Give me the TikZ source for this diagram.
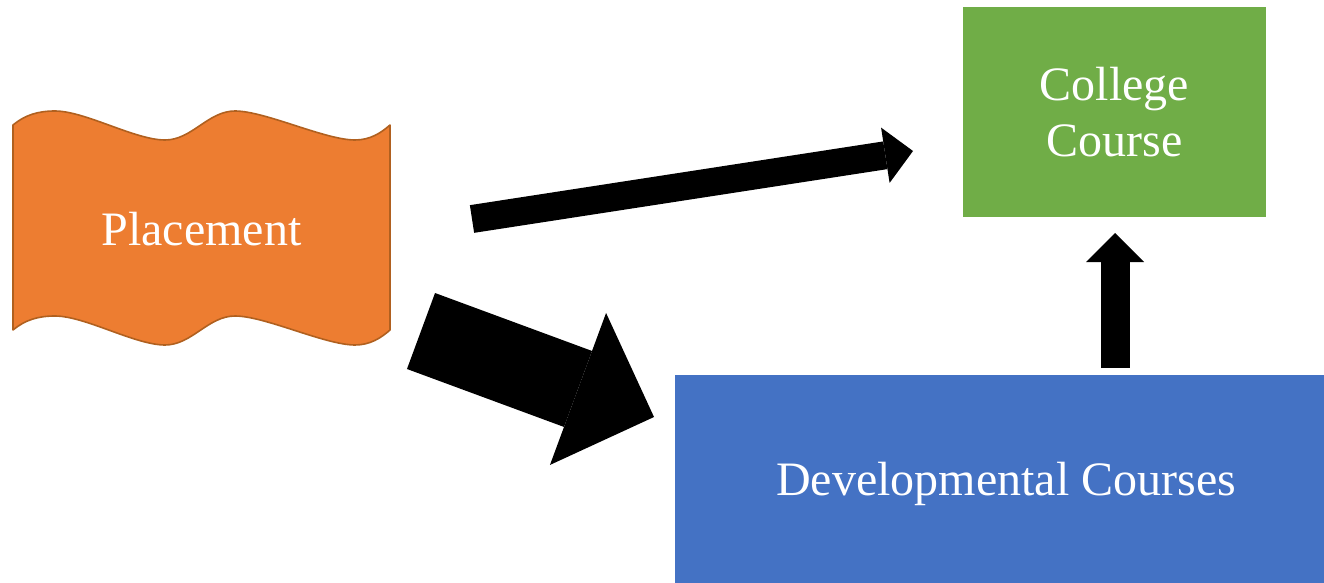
\documentclass[tikz,border=0pt]{standalone}
\usepackage{fontspec}
\setmainfont{Liberation Serif}
\usetikzlibrary{arrows.meta}
\definecolor{placeorange}{HTML}{ED7D31}
\definecolor{placeedge}{HTML}{B0601F}
\definecolor{collgreen}{HTML}{70AD47}
\definecolor{devblue}{HTML}{4472C4}
\tikzset{
	boxtext/.style={text=white, font=\fontsize{48}{56}\selectfont, inner sep=0pt, align=center},
	blockarrow/.style={line width=#1pt, -{Triangle[length=0pt 1, width=0pt 2, line width=0pt]}}
}
\begin{document}
\begin{tikzpicture}[x=1pt, y=-1pt, line join=round]
	\useasboundingbox (0,0) rectangle (1324,583);
	% wavy banner
	\filldraw[fill=placeorange, draw=placeedge, line width=1.6pt] (13,125)
		.. controls (25,115) and (38,111) .. (55,111)
		.. controls (85,111) and (135,140) .. (165,140)
		.. controls (192,140) and (208,111) .. (235,111)
		.. controls (265,111) and (325,140) .. (355,140)
		.. controls (370,140) and (381,133) .. (390,125)
		-- (390,330)
		.. controls (381,338) and (370,345) .. (355,345)
		.. controls (325,345) and (265,316) .. (235,316)
		.. controls (208,316) and (192,345) .. (165,345)
		.. controls (135,345) and (85,316) .. (55,316)
		.. controls (38,316) and (25,320) .. (13,330) -- cycle;
	\node[boxtext, text depth=0pt] (place) at (201.5,228.5) {Placement};
	\node[boxtext, fill=collgreen, minimum width=303pt, minimum height=210pt] (college) at (1114.5,112) {College\\Course};
	\node[boxtext, text depth=0pt, fill=devblue, minimum width=662pt, minimum height=208pt] (dev) at (1006,479) {Developmental Courses};
	% arrow ends
	\coordinate (topTail) at (472,219); \coordinate (topTip) at (913,151);
	\coordinate (bigTail) at (421,331); \coordinate (bigTip) at (654,417);
	\coordinate (upTail) at (1115,368); \coordinate (upTip) at (1115,233);
	\draw[blockarrow=28] (topTail) -- (topTip);
	\draw[blockarrow=81] (bigTail) -- (bigTip);
	\draw[blockarrow=29] (upTail) -- (upTip);
\end{tikzpicture}
\end{document}
